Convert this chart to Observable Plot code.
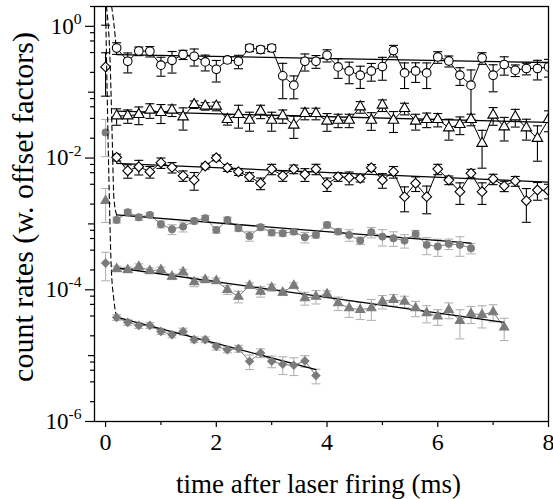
<!DOCTYPE html>
<html><head><meta charset="utf-8">
<script src="https://cdn.jsdelivr.net/npm/d3@7"></script>
<script src="https://cdn.jsdelivr.net/npm/@observablehq/plot@0.6"></script>
<style>
body{margin:0;background:#fff}
#chart{width:553px;height:499px}
</style>
</head><body><div id="chart"></div>
<script>
// ---- data ----
const times = [0.2,0.4,0.6,0.8,1.0,1.2,1.4,1.6,1.8,2.0,2.2,2.4,2.6,2.8,3.0,3.2,3.4,3.6,3.8,4.0,
               4.2,4.4,4.6,4.8,5.0,5.2,5.4,5.6,5.8,6.0,6.2,6.4,6.6,6.8,7.0,7.2,7.4,7.6,7.8,8.0];

const openCircleValues = [0.469,0.295,0.422,0.418,0.257,0.305,0.373,0.351,0.288,0.223,0.309,0.295,0.469,0.444,0.469,0.177,0.128,0.295,0.295,0.364,
  0.242,0.210,0.181,0.210,0.245,0.428,0.196,0.210,0.196,0.343,0.298,0.181,0.128,0.331,0.181,0.263,0.216,0.229,0.229,0.242];
const openCircleErr = [0.2,0.335,0.15,0.18,0.32,0.36,0.16,0.29,0.27,0.36,0.1,0.23,0.12,0.12,0.12,0.55,0.38,0.29,0.22,0.21,
  0.33,0.36,0.37,0.30,0.38,0.2,0.42,0.33,0.42,0.2,0.19,0.3,0.7,0.2,0.44,0.31,0.2,0.2,0.33,0.3];

const openTriangleValues = [0.0437,0.0437,0.0459,0.0534,0.0492,0.0534,0.0422,0.0651,0.0614,0.0614,0.0386,0.0459,0.0376,0.0515,0.0376,0.0437,0.0316,0.0476,0.0476,0.0364,
  0.0376,0.0376,0.0599,0.0376,0.0636,0.0376,0.0566,0.0364,0.0386,0.0386,0.0288,0.0324,0.0386,0.0167,0.0449,0.0298,0.0422,0.0288,0.0199,0.0386];
const openTriangleErr = [0.28,0.23,0.3,0.25,0.32,0.2,0.37,0.13,0.13,0.15,0.18,0.38,0.32,0.23,0.32,0.23,0.37,0.2,0.2,0.3,
  0.23,0.23,0.2,0.3,0.2,0.35,0.2,0.27,0.25,0.23,0.35,0.3,0.2,0.58,0.3,0.39,0.3,0.35,0.55,0.35];

const openDiamondValues = [0.01025,0.00642,0.00738,0.00620,0.00849,0.00723,0.00540,0.00464,0.00757,0.0101,0.00713,0.00620,0.00521,0.00414,0.00681,0.00540,0.00681,0.00566,0.00681,0.00404,
  0.00521,0.00503,0.00492,0.00713,0.00464,0.00620,0.00259,0.00414,0.00259,0.00681,0.00464,0.00309,0.00586,0.00309,0.00481,0.00377,0.00449,0.00225,0.00327,0.00320];
const openDiamondErr = [0.12,0.23,0.25,0.2,0.18,0.18,0.18,0.3,0.1,0.1,0.12,0.12,0.15,0.2,0.18,0.18,0.15,0.22,0.18,0.23,
  0.15,0.22,0.12,0.12,0.25,0.2,0.41,0.25,0.45,0.18,0.15,0.36,0.15,0.36,0.18,0.18,0.17,0.53,0.3,0.25];

const grayCircleValues = [0.00115,0.00150,0.00126,0.00137,0.000989,0.000831,0.000910,0.00111,0.00122,0.000811,0.00115,0.000861,0.000658,0.000891,0.000738,0.000723,0.000764,0.000629,0.000681,0.000966,
  0.000764,0.000681,0.000558,0.000748,0.000642,0.000607,0.000558,0.000705,0.000481,0.000453,0.000498,0.000481,0.000428];
const grayCircleErr = [0.1,0.1,0.1,0.08,0.12,0.17,0.17,0.1,0.1,0.1,0.1,0.1,0.17,0.1,0.1,0.1,0.1,0.18,0.1,0.1,
  0.1,0.2,0.13,0.18,0.28,0.25,0.23,0.13,0.29,0.29,0.18,0.33,0.18];

const grayTriangleValues = [0.000208,0.000201,0.000225,0.000194,0.000201,0.000159,0.000185,0.000131,0.000142,0.000137,0.0001,0.0000791,0.000116,0.0000942,0.000108,0.0000910,0.000116,0.0000749,0.0000791,0.0000861,
  0.0000629,0.0000528,0.0000498,0.0000528,0.0000665,0.0000705,0.0000665,0.0000528,0.0000444,0.0000394,0.0000498,0.0000339,0.0000433,0.0000418,0.0000459,0.0000269];
const grayTriangleErr = [0.1,0.1,0.1,0.1,0.1,0.1,0.1,0.15,0.1,0.1,0.15,0.2,0.1,0.18,0.12,0.1,0.1,0.22,0.23,0.12,
  0.23,0.28,0.29,0.35,0.23,0.2,0.2,0.26,0.29,0.27,0.27,0.47,0.29,0.37,0.29,0.37];

const grayDiamondValues = [0.0000380,0.0000320,0.0000288,0.0000288,0.0000233,0.0000208,0.0000233,0.0000175,0.0000175,0.0000138,
  0.0000123,0.0000128,0.0000082,0.0000110,0.0000082,0.00000738,0.00000713,0.00000832,0.00000498];
const grayDiamondErr = [0.1,0.1,0.1,0.1,0.1,0.1,0.12,0.1,0.1,0.12,0.1,0.12,0.25,0.15,0.2,0.3,0.3,0.2,0.25];

// points at t = 0 (absolute errors)
const zeroSeries = ["openCircle","openDiamond","grayCircle","grayTriangle","grayDiamond"];
const zeroValues = [3.5, 0.242, 0.0245, 0.00225, 0.000254];
const zeroErrors = [2.46, 0.155, 0.014, 0.0012, 0.000117];

// straight (exponential) fits: start/end time and value
const fitSeries = ["openCircle","openTriangle","openDiamond","grayCircle","grayTriangle","grayDiamond"];
const fitStartT = [0.2,0.2,0.2,0.2,0.2,0.2];
const fitEndT   = [8.0,8.0,8.0,6.6,7.2,3.8];
const fitStartV = [0.373,0.0515,0.00831,0.00137,0.000216,0.0000383];
const fitEndV   = [0.282,0.0348,0.00432,0.000510,0.0000320,0.00000615];

// dashed fast-decay curves
const dashCircleT = [0.11,0.17,0.2];
const dashCircleV = [2,0.75,0.373];
const dashGrayCircleT = [0.015,0.085,0.12,0.15,0.2];
const dashGrayCircleV = [2,0.24,0.02,0.0025,0.00137];
const dashGrayDiamondT = [0.0,0.06,0.1,0.15,0.2];
const dashGrayDiamondV = [2,0.005,0.00025,0.00007,0.000038];

// axes
const xTicks = [0,2,4,6,8];
const xMinorTicks = [1,3,5,7];
const yTicks = [1e0,1e-2,1e-4,1e-6];
const yTickLabels = ["10^0","10^-2","10^-4","10^-6"];
const yMidTicks = [1e-1,1e-3,1e-5];
const yMinorMult = [2,4,6,8];
const xTitle = "time after laser firing (ms)";
const yTitle = "count rates (w. offset factors)";

// ---- build ----
const seriesDefs = {
  openCircle:   {vals: openCircleValues,   errs: openCircleErr,   symbol: "circle",   r: 4.3, fill: "white", stroke: "black", err: "black", line: "black"},
  openTriangle: {vals: openTriangleValues, errs: openTriangleErr, symbol: "triangle", r: 3.9, fill: "white", stroke: "black", err: "black", line: "black"},
  openDiamond:  {vals: openDiamondValues,  errs: openDiamondErr,  symbol: "diamond2", r: 4.4, fill: "white", stroke: "black", err: "black", line: "black"},
  grayCircle:   {vals: grayCircleValues,   errs: grayCircleErr,   symbol: "circle",   r: 3.4, fill: "#7b7b7b", stroke: "#7b7b7b", err: "#b3b3b3", line: "#7b7b7b"},
  grayTriangle: {vals: grayTriangleValues, errs: grayTriangleErr, symbol: "triangle", r: 3.4, fill: "#7b7b7b", stroke: "#7b7b7b", err: "#b3b3b3", line: "#7b7b7b"},
  grayDiamond:  {vals: grayDiamondValues,  errs: grayDiamondErr,  symbol: "diamond2", r: 3.6, fill: "#7b7b7b", stroke: "#7b7b7b", err: "#b3b3b3", line: "#7b7b7b"}
};

const cap = {draw(ctx) { ctx.moveTo(-4.5, 0); ctx.lineTo(4.5, 0); }};

const yMinorTicks = [];
for (let e = -6; e < 1; e++) for (const m of yMinorMult) { const v = m * Math.pow(10, e); if (v <= 2) yMinorTicks.push(v); }

const marks = [];
for (const [name, s] of Object.entries(seriesDefs)) {
  const rows = s.vals.map((v, i) => ({t: times[i], v, lo: v * (1 - s.errs[i]), hi: v * (1 + s.errs[i])}));
  s.rows = rows;
  marks.push(Plot.ruleX(rows, {x: "t", y1: "lo", y2: "hi", stroke: s.err, strokeWidth: 1.1, clip: true}));
  marks.push(Plot.dot(rows, {x: "t", y: "lo", symbol: cap, fill: "none", stroke: s.err, strokeWidth: 1.1, clip: true}));
  marks.push(Plot.dot(rows, {x: "t", y: "hi", symbol: cap, fill: "none", stroke: s.err, strokeWidth: 1.1, clip: true}));
  marks.push(Plot.line(rows, {x: "t", y: "v", stroke: s.line, strokeWidth: 1, clip: true}));
}
// zero-time points
zeroSeries.forEach((name, i) => {
  const s = seriesDefs[name];
  const v = zeroValues[i], e = zeroErrors[i];
  const row = [{t: 0, v, lo: v - e, hi: v + e}];
  marks.push(Plot.ruleX(row, {x: "t", y1: "lo", y2: "hi", stroke: s.err, strokeWidth: 1.1, clip: true}));
  marks.push(Plot.dot(row, {x: "t", y: "lo", symbol: cap, fill: "none", stroke: s.err, strokeWidth: 1.1, clip: true}));
  marks.push(Plot.dot(row, {x: "t", y: "hi", symbol: cap, fill: "none", stroke: s.err, strokeWidth: 1.1, clip: true}));
  marks.push(Plot.dot(row, {x: "t", y: "v", symbol: s.symbol, r: s.r, fill: s.fill, stroke: s.stroke, strokeWidth: 1.1, clip: true}));
});
// fits
fitSeries.forEach((name, i) => {
  marks.push(Plot.line([{t: fitStartT[i], v: fitStartV[i]}, {t: fitEndT[i], v: fitEndV[i]}],
    {x: "t", y: "v", stroke: "black", strokeWidth: 1.3, clip: true}));
});
// dashed curves
[[dashCircleT, dashCircleV],[dashGrayCircleT, dashGrayCircleV],[dashGrayDiamondT, dashGrayDiamondV]].forEach(([T, V]) => {
  marks.push(Plot.line(T.map((t, i) => ({t, v: V[i]})),
    {x: "t", y: "v", stroke: "black", strokeWidth: 1.1, strokeDasharray: "5,3.5", curve: "monotone-x", clip: true}));
});
// markers on top
for (const s of Object.values(seriesDefs)) {
  marks.push(Plot.dot(s.rows, {x: "t", y: "v", symbol: s.symbol, r: s.r, fill: s.fill, stroke: s.stroke, strokeWidth: 1.1, clip: true}));
}
// axes
const fontFamily = '"Liberation Serif", "Times New Roman", serif';
marks.push(Plot.axisY(yTicks, {anchor: "left", tickSize: 9, tickPadding: 4, fontSize: 23, strokeWidth: 1.2, label: null,
  tickFormat: d => yTickLabels[yTicks.indexOf(d)]}));
marks.push(Plot.axisY(yMidTicks, {anchor: "left", tickSize: 6, fill: "none", strokeWidth: 1.2, label: null, tickFormat: () => ""}));
marks.push(Plot.axisY(yMinorTicks, {anchor: "left", tickSize: 4, fill: "none", strokeWidth: 1.2, label: null, tickFormat: () => ""}));
marks.push(Plot.axisX(xTicks, {anchor: "bottom", tickSize: 6, tickPadding: 5, fontSize: 24, strokeWidth: 1.2, label: null}));
marks.push(Plot.axisX(xMinorTicks, {anchor: "bottom", tickSize: 4, fill: "none", strokeWidth: 1.2, label: null, tickFormat: () => ""}));
marks.push(Plot.frame({stroke: "black", strokeWidth: 1.3}));
marks.push(Plot.text([yTitle], {text: d => d, frameAnchor: "left", textAnchor: "middle", lineAnchor: "middle",
  rotate: -90, dx: -71, dy: -7, fontSize: 30, fill: "black"}));
marks.push(Plot.text([xTitle], {text: d => d, frameAnchor: "bottom", textAnchor: "middle", lineAnchor: "middle",
  dy: 63, dx: -3, fontSize: 27, fill: "black"}));

const chart = Plot.plot({
  width: 553, height: 499,
  marginLeft: 94, marginRight: 5, marginTop: 6, marginBottom: 78,
  style: {fontFamily, color: "black", background: "white"},
  x: {domain: [-0.2, 8]},
  y: {type: "log", domain: [1e-6, 2]},
  marks
});
// superscripts on y tick labels
const ns = "http://www.w3.org/2000/svg";
chart.querySelectorAll('g[aria-label="y-axis tick label"] text').forEach(t => {
  const s = t.textContent;
  if (!s.includes("^")) return;
  const [b, e] = s.split("^");
  t.textContent = "";
  const t1 = document.createElementNS(ns, "tspan"); t1.textContent = b;
  const t2 = document.createElementNS(ns, "tspan"); t2.textContent = e;
  t2.setAttribute("dy", "-0.62em"); t2.setAttribute("font-size", "0.68em");
  t.append(t1, t2);
});
document.getElementById("chart").append(chart);
</script>
</body></html>
